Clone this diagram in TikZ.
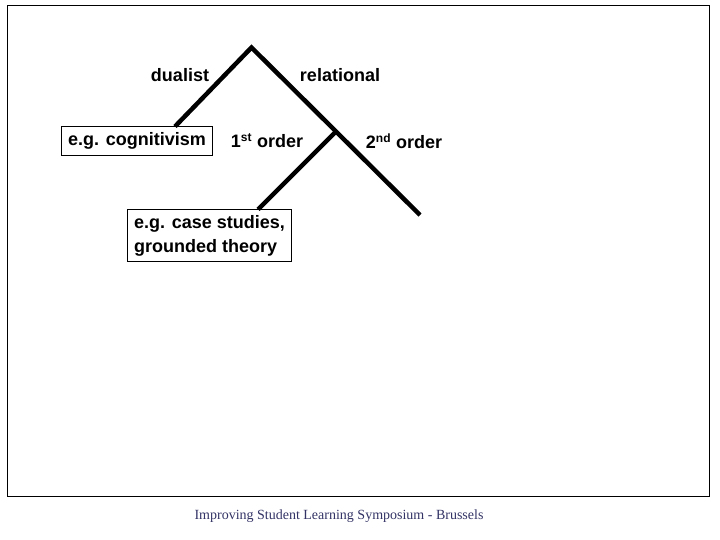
\documentclass[tikz,border=0pt]{standalone}
\usepackage{fontspec}
\setmainfont{Liberation Sans}
\newfontfamily\timesfont{Liberation Serif}
\definecolor{footblue}{RGB}{51,51,102}
\begin{document}
\begin{tikzpicture}[x=1pt,y=-1pt,
  branch/.style={line width=4.5pt,line cap=butt},
  lbl/.style={font=\fontsize{18}{21}\selectfont\bfseries,inner sep=0pt},
  boxed/.style={draw,line width=1pt,font=\fontsize{18}{24}\selectfont\bfseries,inner sep=0pt,anchor=north west}]
\fill[white] (0,0) rectangle (720,540);
\useasboundingbox (0,0) rectangle (720,540);
\draw[line width=1pt] (7.5,5.5) rectangle (709,496.5);
% boxes
\node[boxed,minimum width=151pt,minimum height=29pt] (box1) at (61,126) {e.g. cognitivism};
\node[boxed,minimum width=164pt,minimum height=52pt,align=left] (box2) at (127,209) {e.g. case studies,\\grounded theory};
% tree
\coordinate (apex) at (251.5,47.5);
\coordinate (lend) at (175,126.5);
\coordinate (j) at (336,131.5);
\coordinate (rend) at (420,215);
\coordinate (bend) at (258,209.5);
\draw[branch] (lend) -- (apex) -- (rend);
\draw[branch] (j) -- (bend);
% labels
\node[lbl] (dualist) at (180,75) {dualist};
\node[lbl] (relational) at (340,75) {relational};
\node[lbl] (first) at (267,141) {1\textsuperscript{\fontsize{12}{12}\selectfont st} order};
\node[lbl] (second) at (404,141) {2\textsuperscript{\fontsize{12}{12}\selectfont nd} order};
% footer
\node[font=\timesfont\fontsize{14}{16}\selectfont,text=footblue,inner sep=0pt] (foot) at (339,516) {Improving Student Learning Symposium - Brussels};
\end{tikzpicture}
\end{document}
